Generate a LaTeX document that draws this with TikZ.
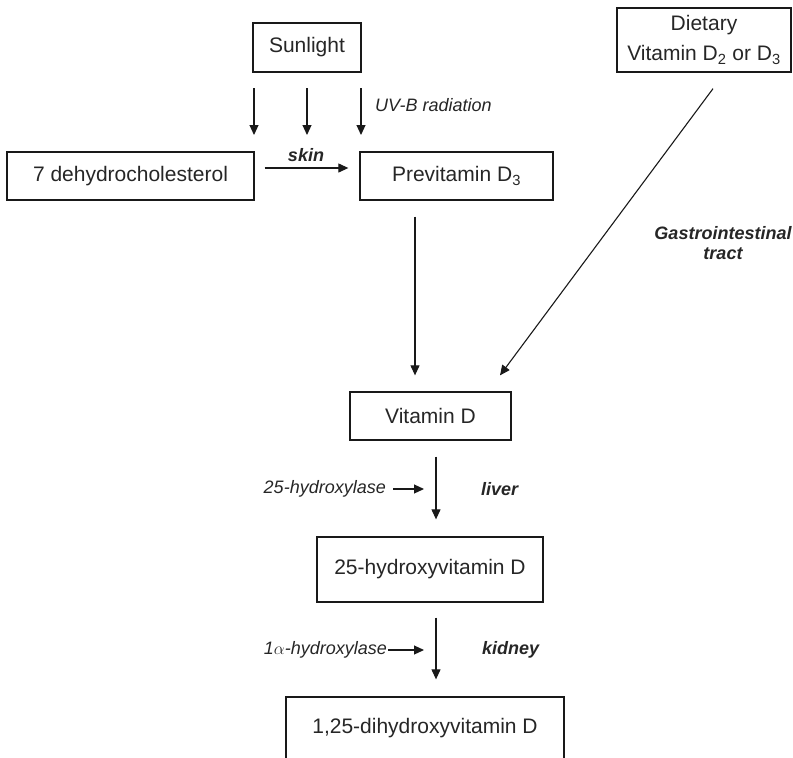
\documentclass[tikz,border=0pt]{standalone}
\usepackage{fontspec}
\setmainfont{Liberation Sans}
\usepackage{tikz}
\usetikzlibrary{arrows.meta}

\begin{document}
\begin{tikzpicture}[x=1pt,y=-1pt,
  box/.style={draw=black!90, line width=1.3pt, inner sep=0pt, align=center,
    text=black!85, font=\fontsize{21}{30}\selectfont},
  flow/.style={draw=black!90, line width=1.1pt, -{Triangle[length=10pt,width=9pt]}},
  enz/.style={inner sep=0pt, text=black!85, font=\fontsize{18}{20}\selectfont\itshape},
  organ/.style={inner sep=0pt, text=black!85, align=center, font=\fontsize{18}{20}\selectfont\bfseries\itshape}]
\useasboundingbox (0,0) rectangle (793,758);
\clip (0,0) rectangle (793,758);
% boxes
\node[box, minimum width=108pt, minimum height=49pt] (sun) at (307,47.5) {Sunlight};
\node[box, minimum width=174pt, minimum height=64pt] (diet) at (704,40) {Dietary\\Vitamin D\textsubscript{2} or D\textsubscript{3}};
\node[box, minimum width=247pt, minimum height=48pt] (chol) at (130.5,176) {7 dehydrocholesterol};
\node[box, minimum width=193pt, minimum height=48pt] (previt) at (456.5,176) {Previtamin D\textsubscript{3}};
\node[box, minimum width=161pt, minimum height=48pt] (vitd) at (430.5,416) {Vitamin D};
\node[box, minimum width=226pt, minimum height=65pt] (hyd) at (430,569.5) {25-hydroxyvitamin D};
\node[box, minimum width=278pt, minimum height=62pt] (dihyd) at (425,728) {1,25-dihydroxyvitamin D};
% sun rays
\foreach \x [count=\i] in {254,307,361}{
  \coordinate (ray\i a) at (\x,88);
  \coordinate (ray\i b) at (\x,135);
  \draw[flow] (ray\i a) -- (ray\i b);
}
\node[enz, anchor=west] (uvb) at (375,105) {UV-B radiation};
% skin
\draw[flow] ([xshift=10pt,yshift=8pt]chol.east) -- ([xshift=-11pt,yshift=8pt]previt.west);
\node[organ] (skin) at (306,155) {skin};
% to vitamin D
\draw[flow, shorten <=16pt, shorten >=16pt] ([xshift=-41.5pt]previt.south) -- ([xshift=-41.5pt]previt.south |- vitd.north);
\draw[flow] ([xshift=9pt,yshift=-16pt]diet.south) -- ([xshift=69.5pt,yshift=16pt]vitd.north);
\node[organ] (gut) at (723,243) {Gastrointestinal\\tract};
% liver
\draw[flow, shorten <=16pt, shorten >=17pt] ([xshift=5.5pt]vitd.south) -- ([xshift=5.5pt]vitd.south |- hyd.north);
\node[enz, anchor=east] (enz1) at (386,489) {25-hydroxylase};
\coordinate (enz1b) at (424,489);
\draw[flow] ([xshift=7pt]enz1.east) -- (enz1b);
\node[organ, anchor=west] (liver) at (481,489) {liver};
% kidney
\draw[flow, shorten <=15pt, shorten >=17pt] ([xshift=6pt]hyd.south) -- ([xshift=6pt]hyd.south |- dihyd.north);
\node[enz, anchor=east] (enz2) at (387,650) {1$\alpha$-hydroxylase};
\coordinate (enz2b) at (424,650);
\draw[flow] ([xshift=1pt]enz2.east) -- (enz2b);
\node[organ, anchor=west] (kidney) at (482,650) {kidney};
\end{tikzpicture}
\end{document}
